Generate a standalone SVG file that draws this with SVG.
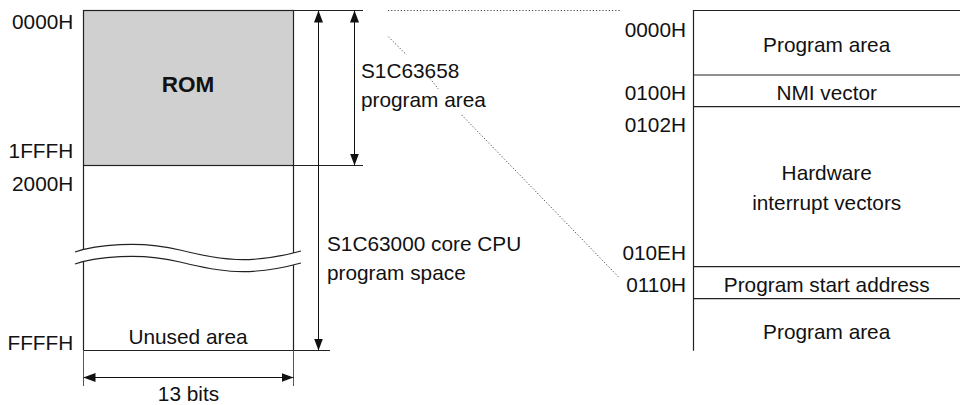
<svg xmlns="http://www.w3.org/2000/svg" width="960" height="405" viewBox="0 0 960 405">
<defs>
<marker id="ah" viewBox="0 0 12 9" markerUnits="userSpaceOnUse" markerWidth="12" markerHeight="9" refX="12" refY="4.5" orient="auto-start-reverse">
<path d="M0,0 L12,4.5 L0,9 z" fill="#111"/>
</marker>
<style>
text{font-family:"Liberation Sans",Arial,sans-serif;font-size:20.8px;fill:#111}
.e{text-anchor:end}
.m{text-anchor:middle}
.ln{stroke:#222;stroke-width:1.2;fill:none}
.rom{stroke:#222;stroke-width:1.2;fill:#d0d0d0}
.thin{stroke:#555;stroke-width:1;fill:none}
.dot{stroke:#444;stroke-width:1;stroke-dasharray:1.2 2;fill:none}
.dim{stroke:#111;stroke-width:1;fill:none}
</style>
</defs>
<rect width="960" height="405" fill="#fff"/>

<g id="cpu-space">
<rect x="83.5" y="10.5" width="210" height="155" class="rom"/>
<path class="ln" d="M83.5,165.5 V350.5 M293.5,165.5 V350.5 M83.5,350.5 H330"/>
<path d="M75,252 C95,245 140,240 180,250 S250,265 301,251 L301,263 C250,277 220,272 180,262 S95,257 75,264 Z" fill="#fff"/>
<path class="ln" d="M75,252 C95,245 140,240 180,250 S250,265 301,251"/>
<path class="ln" d="M75,264 C95,257 140,252 180,262 S250,277 301,263"/>
<text x="188" y="91.5" class="m" style="font-weight:bold;font-size:22.5px">ROM</text>
<text x="188" y="344" class="m">Unused area</text>
<text x="73.3" y="29" class="e">0000H</text>
<text x="73.3" y="158" class="e">1FFFH</text>
<text x="73.3" y="190.7" class="e">2000H</text>
<text x="73.3" y="350" class="e">FFFFH</text>
</g>

<g id="rom-area-label">
<text x="361" y="78">S1C63658</text>
<text x="361" y="107">program area</text>
</g>

<g id="cpu-space-label">
<text x="327" y="251">S1C63000 core CPU</text>
<text x="327" y="280">program space</text>
</g>

<g id="width-label">
<text x="188.5" y="401" class="m">13 bits</text>
</g>

<g id="rom-detail">
<path class="ln" d="M693.5,350.7 V10.5 H960 M693.5,75 H960 M693.5,106.7 H960 M693.5,266.7 H960 M693.5,298.7 H960"/>
<text x="826.7" y="52.3" class="m">Program area</text>
<text x="826.7" y="100" class="m">NMI vector</text>
<text x="826.7" y="180" class="m">Hardware</text>
<text x="826.7" y="209.5" class="m">interrupt vectors</text>
<text x="826.7" y="291.7" class="m">Program start address</text>
<text x="826.7" y="339.3" class="m">Program area</text>
<text x="686" y="37.3" class="e">0000H</text>
<text x="686" y="100" class="e">0100H</text>
<text x="686" y="131.7" class="e">0102H</text>
<text x="686" y="260" class="e">010EH</text>
<text x="686" y="291.7" class="e">0110H</text>
</g>

<g id="connectors">
<path class="ln" d="M293.5,10.5 H363 M293.5,165.5 H363"/>
<line class="dim" x1="318.5" y1="10.5" x2="318.5" y2="350.5" marker-start="url(#ah)" marker-end="url(#ah)"/>
<line class="dim" x1="354.5" y1="10.5" x2="354.5" y2="165.5" marker-start="url(#ah)" marker-end="url(#ah)"/>
<path class="thin" d="M83.5,350.5 V386 M293.5,350.5 V386"/>
<line class="dim" x1="83.5" y1="377.5" x2="293.5" y2="377.5" marker-start="url(#ah)" marker-end="url(#ah)"/>
<path class="dot" d="M388,10.5 H620"/>
<path class="dot" d="M388.3,36.7 L406.7,55 M430,78.3 L438.3,89 M461.7,115 L618.3,276.7"/>
</g>
</svg>
